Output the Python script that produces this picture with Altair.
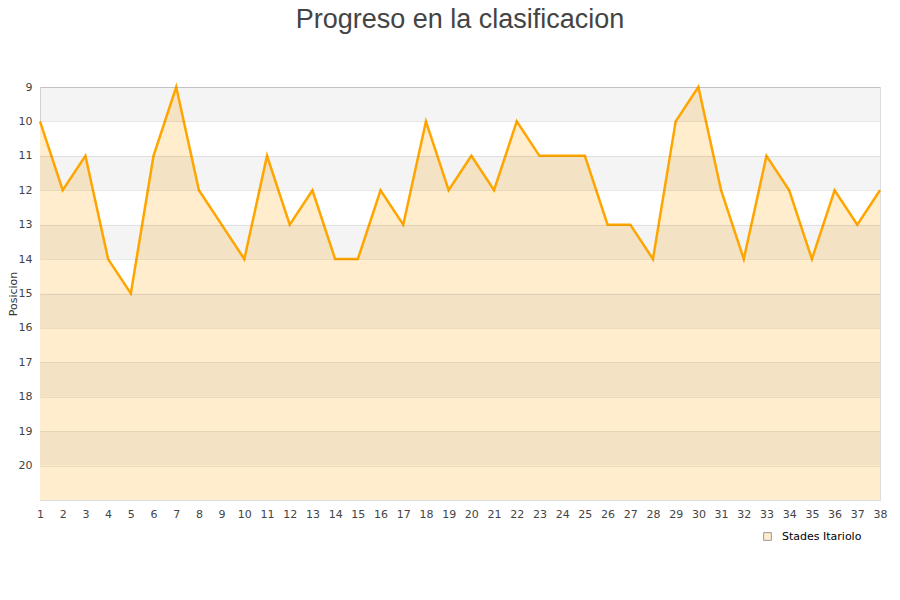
import pandas as pd
import altair as alt

# posicion por jornada
jornadas = list(range(1, 39))
posiciones = [10, 12, 11, 14, 15, 11, 9, 12, 13, 14,
              11, 13, 12, 14, 14, 12, 13, 10, 12, 11,
              12, 10, 11, 11, 11, 13, 13, 14, 10, 9,
              12, 14, 11, 12, 14, 12, 13, 12]
equipo = "Stades Itariolo"
band_start = [9, 11, 13, 15, 17, 19]
y_ticks = list(range(9, 21))

df = pd.DataFrame({'jornada': jornadas, 'posicion': posiciones, 'equipo': equipo})
bands = pd.DataFrame({'y1': band_start, 'y2': [b + 1 for b in band_start]})

y_scale = alt.Scale(domain=[9, 21], reverse=True, nice=False, zero=False)
x_scale = alt.Scale(domain=[1, 38], nice=False, zero=False)

# same axis on every layer so the merge keeps all labels
x_axis = alt.Axis(values=jornadas, title=None, grid=False, ticks=False,
                  domain=False, labelAngle=0, labelPadding=8,
                  labelFontSize=11, labelColor='#444', labelFont='DejaVu Sans',
                  labelFlush=False, labelOverlap=False, format='d')
y_axis = alt.Axis(values=y_ticks, title='Posicion', grid=True,
                  gridColor='#000', gridOpacity=0.08, ticks=False,
                  domain=False, labelPadding=8, labelFontSize=11,
                  labelFont='DejaVu Sans', labelColor='#444',
                  labelOverlap=False, format='d', titleFont='DejaVu Sans',
                  titleFontSize=11, titleFontWeight='normal',
                  titleColor='#333', titleX=-22, titleBaseline='bottom', zindex=1)

area = (alt
        .Chart(df)
        .mark_area(interpolate='linear')
        .encode(
            x=alt.X('jornada:Q', scale=x_scale, axis=x_axis),
            y=alt.Y('posicion:Q', scale=y_scale, axis=y_axis),
            y2=alt.datum(21),
            color=alt.Color('equipo:N', title=None,
                            scale=alt.Scale(range=['#ffedce']),
                            legend=alt.Legend(orient='none', legendX=722, legendY=444,
                                              symbolType='square', symbolSize=60,
                                              symbolStrokeColor='#999', symbolStrokeWidth=1,
                                              labelOffset=9, labelFontSize=11,
                                              labelFont='DejaVu Sans', labelColor='#000'))
        )
       )

stripes = (alt
           .Chart(bands)
           .mark_rect(color='#000', opacity=0.045)
           .encode(
               y=alt.Y('y1:Q', scale=y_scale, axis=y_axis),
               y2='y2:Q',
               x=alt.value(0),
               x2=alt.value(840)
           )
          )

line = (alt
        .Chart(df)
        .mark_line(color='#ffa500', strokeWidth=2.5)
        .encode(
            x=alt.X('jornada:Q', scale=x_scale, axis=x_axis),
            y=alt.Y('posicion:Q', scale=y_scale, axis=y_axis)
        )
       )

chart = (area + stripes + line).properties(
    width=840,
    height=413,
    autosize=alt.AutoSizeParams(type='none'),
    padding={'left': 32, 'top': 79, 'right': 12, 'bottom': 80},
    title=alt.TitleParams('Progreso en la clasificacion', fontSize=27,
                          font='Liberation Sans', fontWeight='normal',
                          color='#444', anchor='middle', offset=47)
).configure_view(
    stroke='#ddd'
)

chart.save("out.html", embed_options={"renderer": "svg", "actions": False})
